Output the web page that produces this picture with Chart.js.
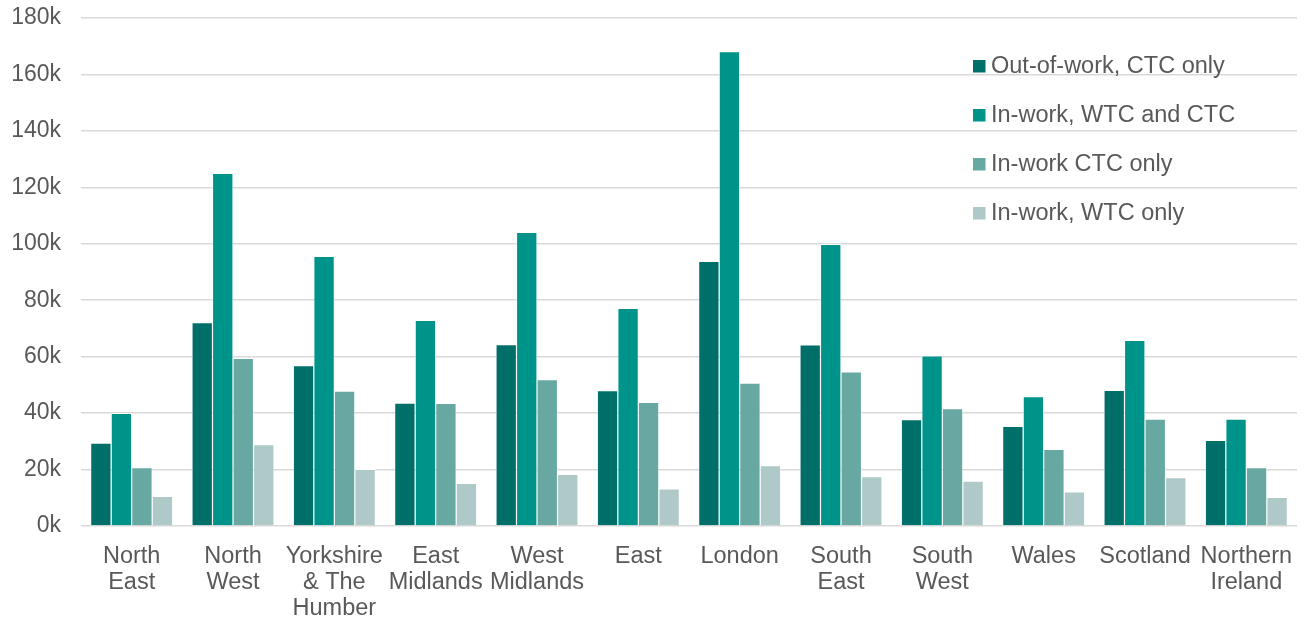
<!DOCTYPE html>
<html>
<head>
<meta charset="utf-8">
<script src="https://cdn.jsdelivr.net/npm/chart.js@4/dist/chart.umd.min.js"></script>
<style>
  html, body { margin: 0; padding: 0; background: #fff; }
  #wrap { width: 1304px; height: 622px; }
</style>
</head>
<body>
<div id="wrap"><canvas id="chart" width="1304" height="622"></canvas></div>
<script>
const regions = [
    ['North', 'East'], ['North', 'West'], ['Yorkshire', '& The', 'Humber'], ['East', 'Midlands'],
    ['West', 'Midlands'], 'East', 'London', ['South', 'East'], ['South', 'West'], 'Wales',
    'Scotland', ['Northern', 'Ireland']
];
const seriesNames = ['Out-of-work, CTC only', 'In-work, WTC and CTC', 'In-work CTC only', 'In-work, WTC only'];
const outOfWorkCtc = [29500, 72200, 57000, 43700, 64400, 48100, 93900, 64300, 37800, 35400, 48200, 30500];
const inWorkWtcCtc = [40000, 125100, 95700, 73000, 104200, 77200, 168200, 99900, 60400, 46000, 65900, 38000];
const inWorkCtcOnly = [20800, 59500, 47900, 43600, 52000, 43900, 50800, 54700, 41700, 27300, 38000, 20800];
const inWorkWtcOnly = [10600, 29000, 20200, 15200, 18400, 13300, 21500, 17600, 16000, 12200, 17300, 10300];
const yTicks = [0, 20000, 40000, 60000, 80000, 100000, 120000, 140000, 160000, 180000];
const colors = ['#006F69', '#00938A', '#68A8A2', '#AEC9C8'];

const FONT = 'Liberation Sans, Arial, sans-serif';
const TEXT = '#595959';

// legend drawn inside the plot, top right
const insideLegend = {
    id: 'insideLegend',
    afterDraw(chart) {
        const ctx = chart.ctx;
        ctx.save();
        ctx.font = '23.5px ' + FONT;
        ctx.textBaseline = 'middle';
        chart.data.datasets.forEach((ds, i) => {
            const y = 66 + i * 49;
            ctx.fillStyle = ds.backgroundColor;
            ctx.fillRect(973, y - 6, 12.5, 12.5);
            ctx.fillStyle = TEXT;
            ctx.fillText(ds.label, 991, y + 1);
        });
        ctx.restore();
    }
};

const datasets = [outOfWorkCtc, inWorkWtcCtc, inWorkCtcOnly, inWorkWtcOnly].map((vals, i) => ({
    label: seriesNames[i],
    data: vals,
    backgroundColor: colors[i],
    borderColor: '#ffffff',
    borderWidth: { top: 1, left: 0.6, right: 0.6, bottom: 0 },
    borderSkipped: false,
    barPercentage: 1.0,
    categoryPercentage: 0.81
}));

new Chart(document.getElementById('chart'), {
    type: 'bar',
    data: { labels: regions, datasets },
    options: {
        responsive: false,
        animation: false,
        devicePixelRatio: 1,
        layout: { padding: { top: 18, right: 7, left: 0, bottom: 0 } },
        plugins: { legend: { display: false }, tooltip: { enabled: false } },
        scales: {
            x: {
                grid: { display: false },
                border: { display: false },
                ticks: {
                    color: TEXT,
                    font: { family: FONT, size: 23.5, lineHeight: 1.094 },
                    padding: 10,
                    maxRotation: 0,
                    autoSkip: false
                },
                afterFit(scale) { scale.height = 96; }
            },
            y: {
                min: 0,
                max: 180000,
                afterBuildTicks(scale) { scale.ticks = yTicks.map(v => ({ value: v })); },
                grid: { color: '#D9D9D9', lineWidth: 1.6, drawTicks: false },
                border: { display: false },
                ticks: {
                    color: TEXT,
                    font: { family: FONT, size: 23 },
                    padding: 20,
                    callback: v => (v / 1000) + 'k'
                },
                afterFit(scale) {
                    scale.width = 81;
                    scale.paddingTop = 0;
                    scale.paddingBottom = 0;
                }
            }
        }
    },
    plugins: [insideLegend]
});
</script>
</body>
</html>
